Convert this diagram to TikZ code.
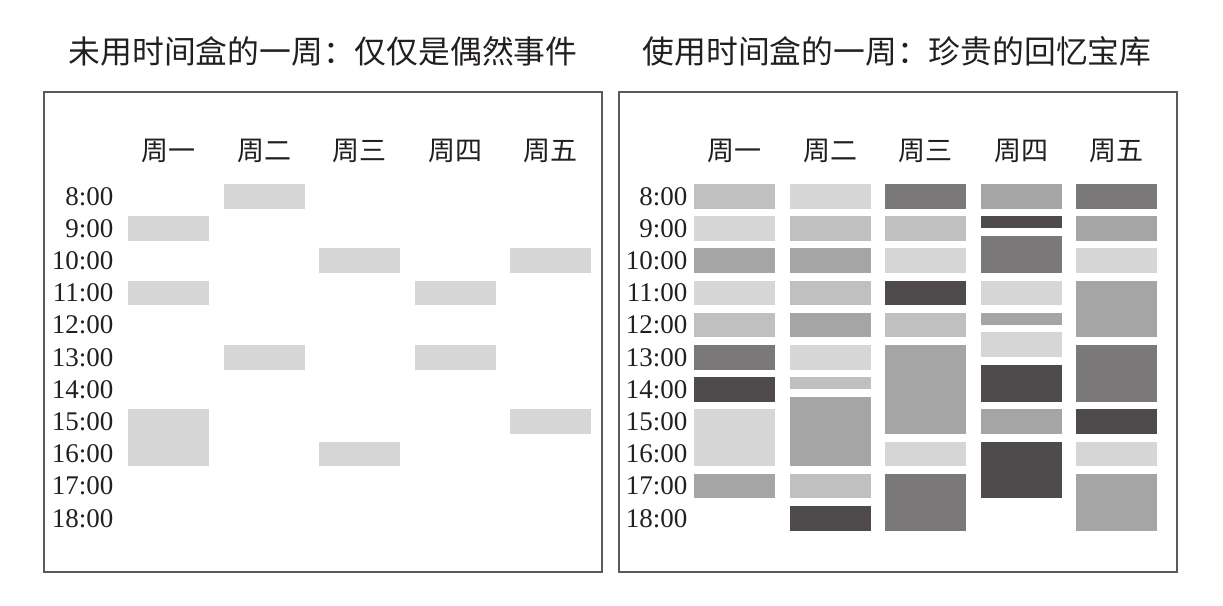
\documentclass[tikz,border=0pt]{standalone}
\usepackage{fontspec}
\setmainfont{Liberation Serif}
\newfontfamily\cjk{Noto Sans CJK SC}
\usepackage{xcolor}
\usepackage{tikz}

\definecolor{ink}{HTML}{231F20}
\definecolor{frame}{HTML}{5A5A5C}
\definecolor{shadeL}{HTML}{D6D6D6}
\definecolor{shadeA}{HTML}{C0C0C0}
\definecolor{shadeB}{HTML}{A6A5A5}
\definecolor{shadeC}{HTML}{7A7878}
\definecolor{shadeD}{HTML}{4F4B4C}

\tikzset{
  titlelab/.style={font=\cjk\fontsize{31.8}{32}\selectfont, text=ink, inner sep=0pt},
  daylab/.style={font=\cjk\fontsize{27}{27}\selectfont, text=ink, inner sep=0pt},
  timelab/.style={font=\fontsize{27}{27}\selectfont, text=ink, anchor=east, inner sep=0pt},
  panel/.style={draw=frame, line width=1.3pt},
}

\begin{document}
\begin{tikzpicture}[x=1pt, y=-1pt]
\useasboundingbox (0,0) rectangle (1223,605);
\foreach \px in {44,619}
  \draw[panel] (\px,92) rectangle ++(558,480);
\node[titlelab] (titleL) at (323,51) {未用时间盒的一周：仅仅是偶然事件};
\node[titlelab] (titleR) at (897,51) {使用时间盒的一周：珍贵的回忆宝库};
\foreach \d [count=\i from 0] in {周一,周二,周三,周四,周五} {
  \node[daylab] (dayL\i) at (168.5+95.5*\i,151) {\d};
  \node[daylab] (dayR\i) at (734.5+95.5*\i,151) {\d};
}
\foreach \t [count=\i from 0] in {8,...,18} {
  \node[timelab] (timeL\i) at (113.5,196.3+32.2*\i) {\t:00};
  \node[timelab] (timeR\i) at (687.5,196.3+32.2*\i) {\t:00};
}
\foreach \c/\a/\b in {1/0/0, 0/1/1, 2/2/2, 4/2/2, 0/3/3, 3/3/3, 1/5/5, 3/5/5, 0/7/8, 4/7/7, 2/8/8}
  \fill[shadeL] (128+95.5*\c,184+32.2*\a) rectangle ++(81,32.2*\b-32.2*\a+24.5);
\foreach \c/\a/\b/\k in {
  0/0/0/shadeA, 0/1/1/shadeL, 0/2/2/shadeB, 0/3/3/shadeL, 0/4/4/shadeA,
  0/5/5/shadeC, 0/6/6/shadeD, 0/7/8/shadeL, 0/9/9/shadeB,
  1/0/0/shadeL, 1/1/1/shadeA, 1/2/2/shadeB, 1/3/3/shadeA, 1/4/4/shadeB,
  1/5/5/shadeL, 1/6/5.61/shadeA, 1/6.605/8/shadeB, 1/9/9/shadeA, 1/10/10/shadeD,
  2/0/0/shadeC, 2/1/1/shadeA, 2/2/2/shadeL, 2/3/3/shadeD, 2/4/4/shadeA,
  2/5/7/shadeB, 2/8/8/shadeL, 2/9/10/shadeC,
  3/0/0/shadeB, 3/1/0.61/shadeD, 3/1.615/2/shadeC, 3/3/3/shadeL, 3/4/3.61/shadeB,
  3/4.606/4.606/shadeL, 3/5.61/6/shadeD, 3/7/7/shadeB, 3/8/9/shadeD,
  4/0/0/shadeC, 4/1/1/shadeB, 4/2/2/shadeL, 4/3/4/shadeB, 4/5/6/shadeC,
  4/7/7/shadeD, 4/8/8/shadeL, 4/9/10/shadeB}
  \fill[\k] (694+95.5*\c,184+32.2*\a) rectangle ++(81,32.2*\b-32.2*\a+24.5);
\end{tikzpicture}
\end{document}
